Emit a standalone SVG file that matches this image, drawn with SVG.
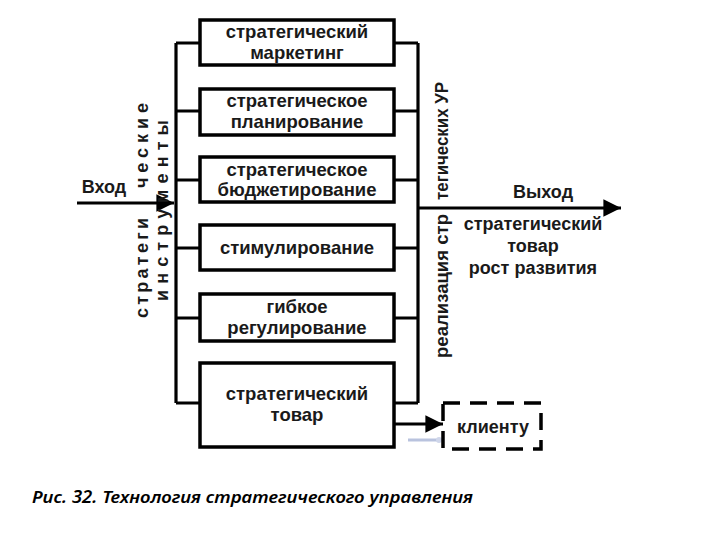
<svg xmlns="http://www.w3.org/2000/svg" width="720" height="540" viewBox="0 0 720 540">
<defs>
<style>
.box{fill:#fff;stroke:#000;stroke-width:3.5}
.ln{fill:none;stroke:#000;stroke-width:3.2}
.t{font-family:"Liberation Sans",Arial,sans-serif;font-weight:bold;font-size:18.5px;fill:#1a1a1a;text-anchor:middle}
.o{font-family:"Liberation Sans",Arial,sans-serif;font-weight:bold;font-size:18px;fill:#1a1a1a;text-anchor:middle}
.v{font-family:"Liberation Sans",Arial,sans-serif;font-weight:bold;font-size:18px;fill:#1a1a1a}
.cap{font-family:"Noto Sans","Open Sans",sans-serif;font-style:italic;font-weight:600;font-size:17px;fill:#000}
</style>
<marker id="ah" viewBox="0 0 10 10" refX="10" refY="5" markerWidth="7" markerHeight="5.5" markerUnits="strokeWidth" orient="auto">
<path d="M0,0 L10,5 L0,10 z" fill="#000"/>
</marker>
</defs>
<rect width="720" height="540" fill="#fff"/>

<g id="connectors">
<path class="ln" d="M176,43 V403"/>
<path class="ln" d="M418,43 V403"/>
<path class="ln" d="M176,43 H200 M176,111 H200 M176,180 H200 M176,248 H200 M176,318 H200 M176,403 H200"/>
<path class="ln" d="M394,43 H418 M394,111 H418 M394,180 H418 M394,248 H418 M394,318 H418 M394,403 H418"/>
<path class="ln" d="M77,203 H174" marker-end="url(#ah)"/>
<path class="ln" d="M418,208 H621" marker-end="url(#ah)"/>
<path class="ln" d="M394,424 H443" marker-end="url(#ah)"/>
<path d="M408,440 H438" stroke="#b9c3de" stroke-width="3" fill="none"/>
<circle cx="439" cy="440" r="3" fill="#cfd6ea"/>
</g>

<g id="n1"><rect class="box" x="200" y="20" width="194" height="45"/>
<text class="t" x="297" y="38">стратегический</text><text class="t" x="297" y="59">маркетинг</text></g>
<g id="n2"><rect class="box" x="200" y="89" width="194" height="46"/>
<text class="t" x="297" y="107">стратегическое</text><text class="t" x="297" y="128">планирование</text></g>
<g id="n3"><rect class="box" x="200" y="157" width="194" height="45"/>
<text class="t" x="297" y="176">стратегическое</text><text class="t" x="297" y="196">бюджетирование</text></g>
<g id="n4"><rect class="box" x="200" y="225" width="194" height="45"/>
<text class="t" x="297" y="254">стимулирование</text></g>
<g id="n5"><rect class="box" x="200" y="294" width="194" height="47"/>
<text class="t" x="297" y="313">гибкое</text><text class="t" x="297" y="334">регулирование</text></g>
<g id="n6"><rect class="box" x="200" y="363" width="194" height="84"/>
<text class="t" x="297" y="400">стратегический</text><text class="t" x="297" y="421">товар</text></g>
<g id="n7"><rect x="443" y="403" width="98" height="46" fill="#fff" stroke="#000" stroke-width="3.5" stroke-dasharray="17,10"/>
<text class="o" x="493" y="433">клиенту</text></g>

<g id="labels">
<text class="o" x="104" y="193">Вход</text>
<text class="o" x="543" y="198">Выход</text>
<text class="o" x="533" y="230">стратегический</text>
<text class="o" x="533" y="252">товар</text>
<text class="o" x="533" y="274">рост развития</text>
<text class="v" transform="translate(148,318) rotate(-90)" textLength="100" lengthAdjust="spacing">стратеги</text>
<text class="v" transform="translate(148,188) rotate(-90)" textLength="85" lengthAdjust="spacing">ческие</text>
<text class="v" transform="translate(168,301) rotate(-90)" textLength="181" lengthAdjust="spacing">инструменты</text>
<text class="v" transform="translate(448,358) rotate(-90)" textLength="144" lengthAdjust="spacingAndGlyphs">реализация стр</text>
<text class="v" transform="translate(448,200) rotate(-90)" textLength="118" lengthAdjust="spacingAndGlyphs">тегических УР</text>
</g>

<text class="cap" x="32" y="503" textLength="441" lengthAdjust="spacingAndGlyphs">Рис. 32. Технология стратегического управления</text>
</svg>
